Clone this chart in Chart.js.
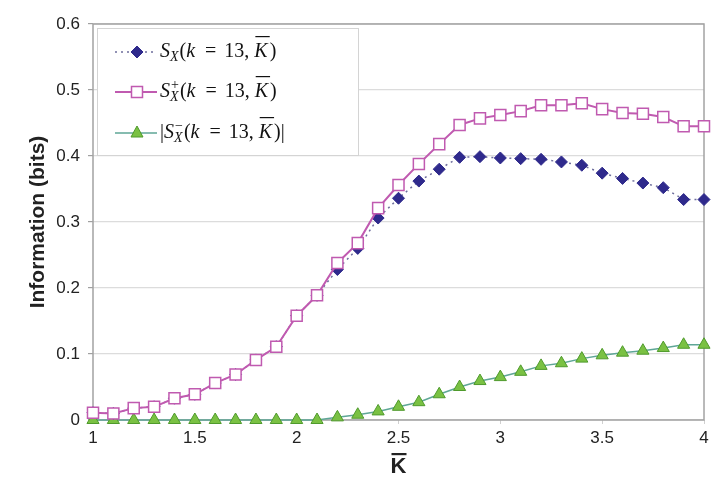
<!DOCTYPE html>
<html>
<head>
<meta charset="utf-8">
<script src="https://cdn.jsdelivr.net/npm/chart.js@4/dist/chart.umd.min.js"></script>
<style>
  html, body { margin: 0; padding: 0; background: #fff; }
  #wrap { width: 725px; height: 497px; position: relative; }
</style>
</head>
<body>
<div id="wrap"><canvas id="myChart" width="725" height="497"></canvas></div>
<script>
// K bar values (x axis)
var kbar = [1.0, 1.1, 1.2, 1.3, 1.4, 1.5, 1.6, 1.7, 1.8, 1.9,
            2.0, 2.1, 2.2, 2.3, 2.4, 2.5, 2.6, 2.7, 2.8, 2.9,
            3.0, 3.1, 3.2, 3.3, 3.4, 3.5, 3.6, 3.7, 3.8, 3.9, 4.0];

// S_X(k=13, Kbar)
var sx = [0.011, 0.010, 0.018, 0.020, 0.033, 0.039, 0.056, 0.069, 0.091, 0.111,
          0.158, 0.189, 0.228, 0.260, 0.306, 0.336, 0.362, 0.380, 0.398, 0.399,
          0.397, 0.396, 0.395, 0.391, 0.386, 0.374, 0.366, 0.359, 0.352, 0.334, 0.334];

// S_X+(k=13, Kbar)
var sxPlus = [0.011, 0.010, 0.018, 0.020, 0.033, 0.039, 0.056, 0.069, 0.091, 0.111,
              0.158, 0.189, 0.238, 0.268, 0.321, 0.356, 0.388, 0.418, 0.447, 0.457,
              0.462, 0.468, 0.477, 0.477, 0.480, 0.471, 0.465, 0.464, 0.459, 0.445, 0.445];

// |S_X-(k=13, Kbar)|
var sxMinus = [0, 0, 0, 0, 0, 0, 0, 0, 0, 0,
               0, 0, 0.004, 0.008, 0.013, 0.020, 0.027, 0.039, 0.050, 0.059,
               0.065, 0.073, 0.082, 0.086, 0.093, 0.098, 0.102, 0.105, 0.109, 0.114, 0.114];

var yTicks = [0, 0.1, 0.2, 0.3, 0.4, 0.5, 0.6];
var xTicks = [1, 1.5, 2, 2.5, 3, 3.5, 4];

function pts(arr) {
  return arr.map(function (v, i) { return { x: kbar[i], y: v }; });
}

var BLUE = '#2f2a8c';
var BLUE_LINE = '#6d6d9c';
var PINK = '#c05ab0';
var GREEN = '#7ac143';
var GREEN_EDGE = '#4f9a2c';
var TEAL = '#5ea696';

// 테두리 (plot frame)
var framePlugin = {
  id: 'frame',
  beforeDatasetsDraw: function (chart) {
    var a = chart.chartArea, ctx = chart.ctx;
    ctx.save();
    ctx.strokeStyle = '#a3a3a3';
    ctx.lineWidth = 1.5;
    ctx.strokeRect(a.left, a.top, a.right - a.left, a.bottom - a.top);
    ctx.restore();
  }
};

// x title overline (K bar)
var overlinePlugin = {
  id: 'overline',
  afterDraw: function (chart) {
    var ctx = chart.ctx, a = chart.chartArea;
    var cx = (a.left + a.right) / 2;
    ctx.save();
    ctx.fillStyle = '#222';
    ctx.fillRect(cx - 7, 453, 15, 2.2);
    ctx.restore();
  }
};

function marker(ctx, style, x, y) {
  ctx.beginPath();
  if (style === 'diamond') {
    ctx.fillStyle = BLUE; ctx.strokeStyle = BLUE; ctx.lineWidth = 1;
    ctx.moveTo(x - 6, y); ctx.lineTo(x, y - 6); ctx.lineTo(x + 6, y); ctx.lineTo(x, y + 6);
    ctx.closePath(); ctx.fill(); ctx.stroke();
  } else if (style === 'square') {
    ctx.fillStyle = '#fff'; ctx.strokeStyle = PINK; ctx.lineWidth = 1.5;
    ctx.rect(x - 5.5, y - 5.5, 11, 11); ctx.fill(); ctx.stroke();
  } else {
    ctx.fillStyle = GREEN; ctx.strokeStyle = GREEN_EDGE; ctx.lineWidth = 1;
    ctx.moveTo(x, y - 7); ctx.lineTo(x + 6, y + 4); ctx.lineTo(x - 6, y + 4);
    ctx.closePath(); ctx.fill(); ctx.stroke();
  }
}

function drawMath(ctx, x, y, parts) {
  var big = 20, small = 14;
  parts.forEach(function (p) {
    if (p.gap !== undefined) {
      x += p.gap;
    } else if (p.sub !== undefined || p.sup !== undefined) {
      ctx.font = 'italic ' + small + 'px "Liberation Serif"';
      var w1 = p.sub ? ctx.measureText(p.sub).width : 0;
      if (p.sub) ctx.fillText(p.sub, x, y + 5);
      ctx.font = small + 'px "Liberation Serif"';
      var w2 = p.sup ? ctx.measureText(p.sup).width : 0;
      if (p.sup) ctx.fillText(p.sup, x + 1, y - 7);
      x += Math.max(w1, w2 + 1) + 1;
    } else {
      ctx.font = (p.it ? 'italic ' : '') + big + 'px "Liberation Serif"';
      var w = ctx.measureText(p.t).width;
      ctx.fillText(p.t, x, y);
      if (p.bar) ctx.fillRect(x + 1, y - 16, w + 1, 1.2);
      x += w;
    }
  });
}

function mathText(pre, sup, post) {
  var p = [];
  if (pre) p.push({ t: pre });
  p.push({ t: 'S', it: true }, { sup: sup, sub: 'X' }, { t: '(' }, { t: 'k', it: true }, { gap: 10 },
    { t: '=' }, { gap: 8 }, { t: '13,' }, { gap: 5 }, { t: 'K', it: true, bar: true }, { gap: 2 }, { t: ')' + post });
  return p;
}

var legendItems = [
  { style: 'diamond', line: BLUE_LINE, dash: [2, 4], lw: 1.5, y: 52, parts: mathText('', undefined, '') },
  { style: 'square', line: PINK, dash: [], lw: 2, y: 92, parts: mathText('', '+', '') },
  { style: 'triangle', line: TEAL, dash: [], lw: 1.5, y: 133, parts: mathText('|', '\u2212', '|') }
];

// 범례 (custom legend with math text)
var mathLegend = {
  id: 'mathLegend',
  afterDraw: function (chart) {
    var ctx = chart.ctx;
    ctx.save();
    ctx.fillStyle = '#fff';
    ctx.strokeStyle = '#d4d4d4';
    ctx.lineWidth = 1;
    ctx.fillRect(97, 28, 261, 127);
    ctx.strokeRect(97.5, 28.5, 261, 127);
    legendItems.forEach(function (it) {
      ctx.beginPath();
      ctx.setLineDash(it.dash);
      ctx.strokeStyle = it.line;
      ctx.lineWidth = it.lw;
      ctx.moveTo(115, it.y); ctx.lineTo(157, it.y);
      ctx.stroke();
      ctx.setLineDash([]);
      marker(ctx, it.style, 137, it.y);
      ctx.fillStyle = '#111';
      ctx.textBaseline = 'middle';
      drawMath(ctx, 160, it.y, it.parts);
    });
    ctx.restore();
  }
};

var chartArea = document.getElementById('myChart').getContext('2d');
var myChart = new Chart(chartArea, {
  type: 'line',
  data: {
    datasets: [{
      label: 'S+',
      data: pts(sxPlus),
      borderColor: PINK,
      borderWidth: 2,
      pointStyle: 'rect',
      pointRadius: 7.8,
      pointBorderWidth: 1.5,
      pointBackgroundColor: '#fff',
      pointBorderColor: PINK,
      fill: false,
      clip: false,
      order: 0,
    }, {
      label: 'S',
      data: pts(sx),
      borderColor: BLUE_LINE,
      borderWidth: 1.5,
      borderDash: [2, 4],
      pointStyle: 'rectRot',
      pointRadius: 6,
      pointBorderWidth: 1,
      pointBackgroundColor: BLUE,
      pointBorderColor: BLUE,
      fill: false,
      clip: false,
      order: 1,
    }, {
      label: 'S-',
      data: pts(sxMinus),
      borderColor: TEAL,
      borderWidth: 1.5,
      pointStyle: 'triangle',
      pointRadius: 7,
      pointBorderWidth: 1,
      pointBackgroundColor: GREEN,
      pointBorderColor: GREEN_EDGE,
      fill: false,
      clip: false,
      order: 2,
    }]
  },
  options: {
    responsive: false,
    animation: false,
    events: [],
    layout: {
      padding: { left: 0, right: 21, top: 24, bottom: 0 }
    },
    plugins: {
      legend: { display: false },
      tooltip: { enabled: false },
    },
    scales: {
      x: {
        type: 'linear',
        min: 1,
        max: 4,
        afterFit: function (s) { s.height = 77; },
        afterBuildTicks: function (s) { s.ticks = xTicks.map(function (v) { return { value: v }; }); },
        border: { display: false },
        grid: {
          drawOnChartArea: false,
          drawTicks: true,
          tickLength: 4,
          tickColor: '#d0d0d0',
        },
        ticks: {
          color: '#222',
          padding: 4,
          maxRotation: 0,
          callback: function (v) { return String(v); },
          font: { family: 'Liberation Sans', size: 17 },
        },
        title: {
          display: true,
          text: 'K',
          color: '#222',
          font: { family: 'Liberation Sans', size: 22, weight: 'bold' },
          padding: { top: 0, bottom: 17 },
        }
      },
      y: {
        min: 0,
        max: 0.6,
        afterFit: function (s) { s.width = 93; },
        afterBuildTicks: function (s) { s.ticks = yTicks.map(function (v) { return { value: v }; }); },
        border: { display: false },
        grid: {
          color: '#dcdcdc',
          lineWidth: 1.2,
          drawTicks: true,
          tickLength: 5,
          tickColor: '#a0a0a0',
        },
        ticks: {
          color: '#222',
          padding: 8,
          callback: function (v) { return String(v); },
          font: { family: 'Liberation Sans', size: 17 },
        },
        title: {
          display: true,
          text: 'Information (bits)',
          color: '#222',
          font: { family: 'Liberation Sans', size: 21, weight: 'bold' },
          padding: { top: 26, bottom: 0 },
        }
      }
    }
  },
  plugins: [framePlugin, mathLegend, overlinePlugin]
});
</script>
</body>
</html>
